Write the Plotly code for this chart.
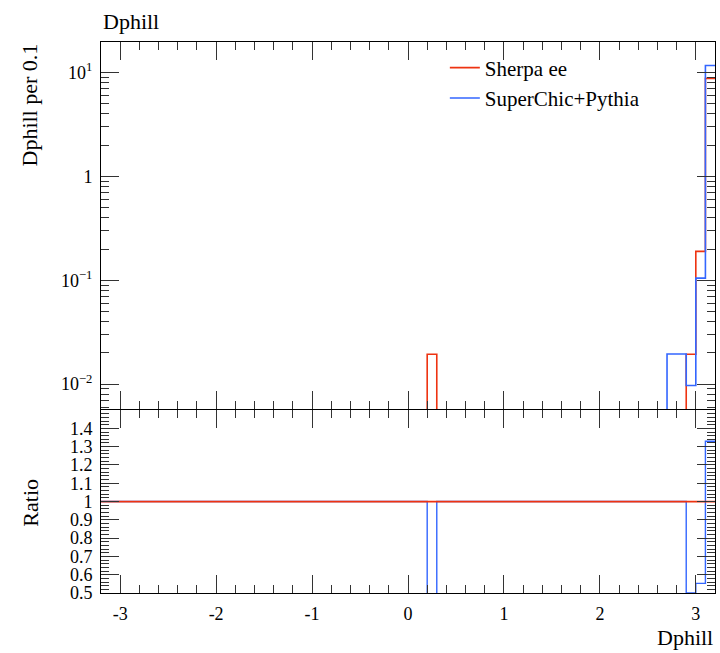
import plotly.graph_objects as go
from plotly.subplots import make_subplots

# ---- data (64 bins of width 0.1 from -3.2 to 3.2) ----
bin_edges = [round(-3.2 + 0.1 * i, 1) for i in range(65)]

sherpa_ee = [
    0, 0, 0, 0, 0, 0, 0, 0, 0, 0, 0, 0, 0, 0, 0, 0,
    0, 0, 0, 0, 0, 0, 0, 0, 0, 0, 0, 0, 0, 0, 0, 0,
    0, 0, 0.0194, 0, 0, 0, 0, 0, 0, 0, 0, 0, 0, 0, 0, 0,
    0, 0, 0, 0, 0, 0, 0, 0, 0, 0, 0, 0, 0, 0.0194, 0.19, 8.8,
]
superchic_pythia = [
    0, 0, 0, 0, 0, 0, 0, 0, 0, 0, 0, 0, 0, 0, 0, 0,
    0, 0, 0, 0, 0, 0, 0, 0, 0, 0, 0, 0, 0, 0, 0, 0,
    0, 0, 0, 0, 0, 0, 0, 0, 0, 0, 0, 0, 0, 0, 0, 0,
    0, 0, 0, 0, 0, 0, 0, 0, 0, 0, 0, 0.0195, 0.0195, 0.0097, 0.105, 11.7,
]

x_tickvals = [-3, -2, -1, 0, 1, 2, 3]
x_ticktext = ["-3", "-2", "-1", "0", "1", "2", "3"]
main_tickvals = [0.01, 0.1, 1, 10]
main_ticktext = ["10<sup>−2</sup>", "10<sup>−1</sup>", "1", "10<sup>1</sup>"]
ratio_tickvals = [0.5, 0.6, 0.7, 0.8, 0.9, 1.0, 1.1, 1.2, 1.3, 1.4]
ratio_ticktext = ["0.5", "0.6", "0.7", "0.8", "0.9", "1", "1.1", "1.2", "1.3", "1.4"]

RED = "#EE3311"
BLUE = "#3366FF"
FONT = "Liberation Serif"


def step(vals, floor):
    v = [x if x > 0 else floor for x in vals]
    return v + [v[-1]]


ratio_ref = [1.0 for _ in sherpa_ee]
ratio_sc = [(s / r) if r > 0 else 1.0 for s, r in zip(superchic_pythia, sherpa_ee)]

fig = make_subplots(rows=2, cols=1, shared_xaxes=True, vertical_spacing=0,
                    row_heights=[0.668, 0.332])

fig.add_trace(go.Scatter(x=bin_edges, y=step(sherpa_ee, 1e-9), mode="lines",
                         line=dict(color=RED, width=1.6, shape="hv"),
                         name="Sherpa ee"), row=1, col=1)
fig.add_trace(go.Scatter(x=bin_edges, y=step(superchic_pythia, 1e-9), mode="lines",
                         line=dict(color=BLUE, width=1.6, shape="hv"),
                         name="SuperChic+Pythia"), row=1, col=1)

fig.add_trace(go.Scatter(x=bin_edges, y=ratio_sc + [ratio_sc[-1]], mode="lines",
                         line=dict(color=BLUE, width=1.4, shape="hv"),
                         showlegend=False), row=2, col=1)
fig.add_trace(go.Scatter(x=bin_edges, y=ratio_ref + [ratio_ref[-1]], mode="lines",
                         line=dict(color=RED, width=1.8, shape="hv"),
                         showlegend=False), row=2, col=1)

tickfont = dict(family=FONT, size=18, color="black")
common = dict(showline=True, linecolor="black", linewidth=1, mirror="allticks",
              ticks="inside", tickwidth=1, tickcolor="#333", showgrid=False,
              zeroline=False, tickfont=tickfont)

fig.update_xaxes(range=[-3.2, 3.2], tickvals=x_tickvals, ticktext=x_ticktext, ticklen=18,
                 minor=dict(ticks="inside", ticklen=8, tickwidth=1, tickcolor="#333",
                            tick0=0, dtick=0.2, showgrid=False),
                 **common)
fig.update_xaxes(showticklabels=False, row=1, col=1)
fig.update_xaxes(showticklabels=True, ticklabelstandoff=4, row=2, col=1)

minor_log = []
for d in [0.001, 0.01, 0.1, 1]:
    minor_log += [d * k for k in range(2, 10)]
fig.update_yaxes(type="log", range=[-2.24, 1.295], tickvals=main_tickvals,
                 ticktext=main_ticktext, ticklen=18, ticklabelstandoff=4,
                 minor=dict(ticks="inside", ticklen=8, tickwidth=1, tickcolor="#333",
                            tickvals=minor_log, showgrid=False),
                 row=1, col=1, **common)
fig.update_yaxes(range=[0.5, 1.5], tickvals=ratio_tickvals, ticktext=ratio_ticktext,
                 ticklen=18, ticklabelstandoff=4,
                 minor=dict(ticks="inside", ticklen=8, tickwidth=1, tickcolor="#333",
                            tick0=0.5, dtick=0.02, showgrid=False),
                 row=2, col=1, **common)

# plot height = 653 - 42 - 60 = 551 px; main panel starts 1px above ratio so the two
# outward-drawn border lines coincide into one
PH = 551.0
fig.update_yaxes(domain=[0.332 + 1.0 / PH, 1.0], row=1, col=1)
fig.update_yaxes(domain=[0.0, 0.332], row=2, col=1)

fig.update_layout(
    width=720, height=653,
    margin=dict(l=101, r=5, t=42, b=60),
    paper_bgcolor="white", plot_bgcolor="white",
    font=dict(family=FONT, size=18, color="black"),
    showlegend=True,
    legend=dict(x=0.56, y=0.99, xanchor="left", yanchor="top",
                bgcolor="rgba(0,0,0,0)", font=dict(family=FONT, size=21, color="black"),
                tracegroupgap=0),
    annotations=[
        dict(text="Dphill", xref="paper", yref="paper", x=0, y=1, xanchor="left",
             yanchor="bottom", yshift=6, showarrow=False,
             font=dict(family=FONT, size=22, color="black")),
        dict(text="Dphill", xref="paper", yref="paper", x=1, y=0, xanchor="right",
             yanchor="top", yshift=-30, showarrow=False,
             font=dict(family=FONT, size=22, color="black")),
        dict(text="Dphill per 0.1", xref="paper", yref="paper", x=0, y=1,
             xanchor="center", yanchor="top", xshift=-72, yshift=0, textangle=-90,
             showarrow=False, font=dict(family=FONT, size=22, color="black")),
        dict(text="Ratio", xref="paper", yref="paper", x=0, y=0.164,
             xanchor="center", yanchor="middle", xshift=-70, textangle=-90,
             showarrow=False, font=dict(family=FONT, size=22, color="black")),
    ],
)

fig.write_html("out.html", config={"displayModeBar": False},
               post_script="document.body.style.margin='0';")
